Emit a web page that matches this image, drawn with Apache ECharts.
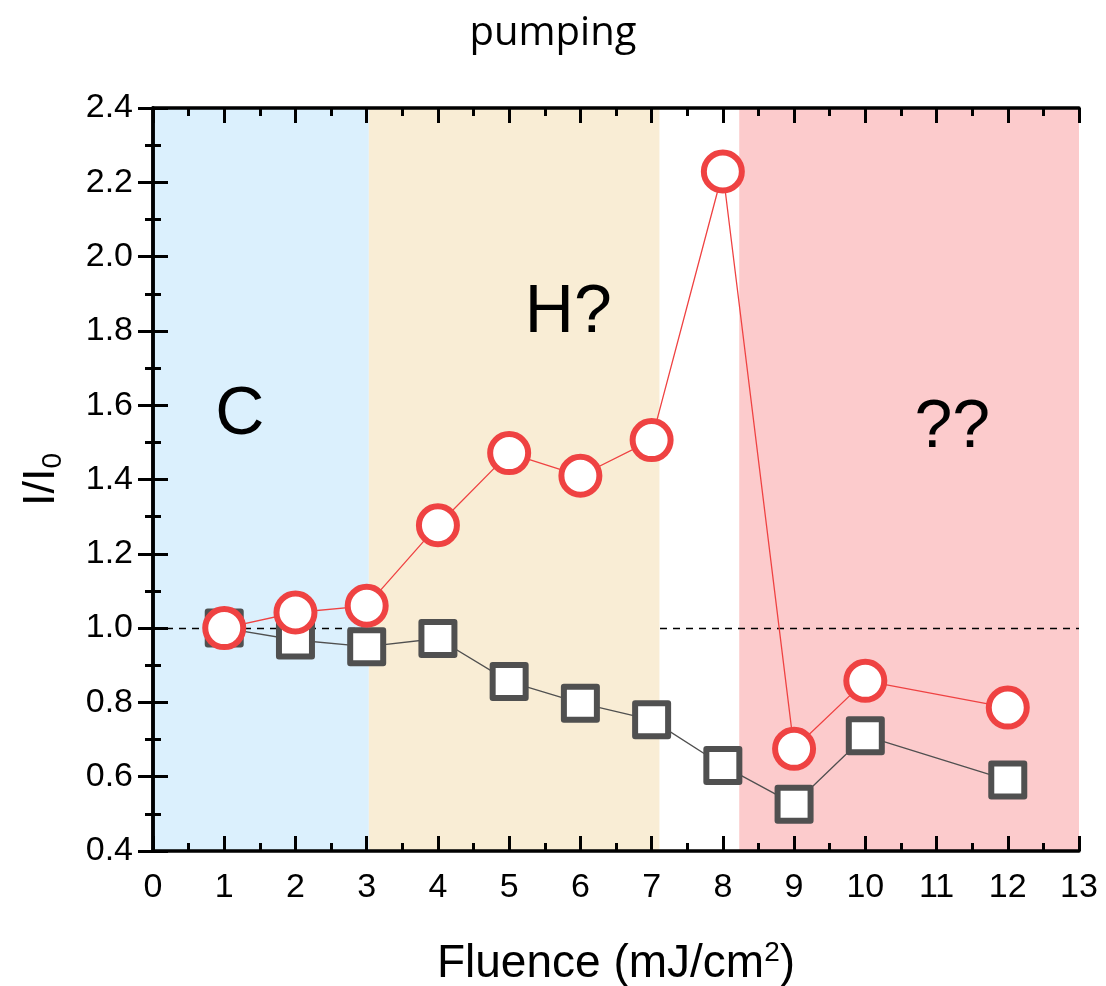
<!DOCTYPE html>
<html>
<head>
<meta charset="utf-8">
<script src="https://cdn.jsdelivr.net/npm/echarts@6/dist/echarts.min.js"></script>
<style>
  html, body { margin: 0; padding: 0; background: #fff; }
  #chart { width: 1106px; height: 986px; }
</style>
</head>
<body>
<div id="chart"></div>
<script>
// fluence values (mJ/cm2)
const fluence = [1, 2, 3, 4, 5, 6, 7, 8, 9, 10, 12]
// red circles
const circleVals = [1.00, 1.042, 1.06, 1.277, 1.471, 1.41, 1.506, 2.229, 0.675, 0.858, 0.786]
// grey squares
const squareVals = [1.00, 0.968, 0.95, 0.972, 0.856, 0.798, 0.753, 0.63, 0.526, 0.71, 0.591]
// shaded regions [from, to]
const regionC = [0, 3.03]
const regionH = [3.03, 7.11]
const regionQ = [8.23, 13]
// region labels [text, x, y]
const regionLabels = [['C', 1.22, 1.574], ['H?', 5.83, 1.848], ['??', 11.22, 1.539]]

const axisFont = 'Liberation Sans, Arial, sans-serif'

const chartDom = document.getElementById('chart')
const myChart = echarts.init(chartDom)

const pair = (xs, ys) => xs.map((x, i) => [x, ys[i]])

const areaSeries = (range, color, z) => ({
  type: 'line',
  data: [],
  silent: true,
  markArea: {
    silent: true,
    z: z,
    itemStyle: { color: color },
    data: [[{ xAxis: range[0] }, { xAxis: range[1] }]]
  }
})

const tickCommon = {
  inside: true, length: 15,
  lineStyle: { color: '#000', width: 3 }
}
const minorCommon = {
  show: true, splitNumber: 2, length: 8,
  lineStyle: { color: '#000', width: 3 }
}
const lineCommon = { show: true, lineStyle: { color: '#000', width: 3.5 } }

const option = {
  backgroundColor: '#fff',
  animation: false,
  title: {
    text: 'pumping',
    left: 'center',
    top: 9,
    textStyle: { fontFamily: 'Open Sans, Noto Sans, sans-serif', fontSize: 40, fontWeight: 'normal', color: '#000' }
  },
  grid: { left: 153, top: 108, right: 27, bottom: 135, outerBoundsMode: 'none', containLabel: false },
  xAxis: [
    {
      type: 'value', min: 0, max: 13, interval: 1, z: 10,
      name: '{a|Fluence (mJ/cm}{s|2}{a|)}',
      nameLocation: 'middle', nameGap: 88,
      nameTextStyle: {
        rich: {
          a: { fontFamily: axisFont, fontSize: 46, color: '#000' },
          s: { fontFamily: axisFont, fontSize: 28, color: '#000', padding: [0, 0, 22, 0] }
        }
      },
      axisLine: lineCommon,
      axisTick: tickCommon,
      minorTick: minorCommon,
      splitLine: { show: false },
      axisLabel: { fontFamily: axisFont, fontSize: 34, color: '#000', margin: 20 }
    },
    {
      type: 'value', min: 0, max: 13, interval: 1, position: 'top', z: 10,
      axisLine: lineCommon,
      axisTick: tickCommon,
      minorTick: minorCommon,
      splitLine: { show: false },
      axisLabel: { show: false }
    }
  ],
  yAxis: [
    {
      type: 'value', min: 0.4, max: 2.4, interval: 0.2, z: 10,
      name: '{a|I/I}{s|0}',
      nameLocation: 'middle', nameGap: 86, nameRotate: 90,
      nameTextStyle: {
        rich: {
          a: { fontFamily: axisFont, fontSize: 45, color: '#000' },
          s: { fontFamily: axisFont, fontSize: 28, color: '#000', padding: [22, 0, 0, 0] }
        }
      },
      axisLine: lineCommon,
      axisTick: tickCommon,
      minorTick: minorCommon,
      splitLine: { show: false },
      axisLabel: { fontFamily: axisFont, fontSize: 34, color: '#000', margin: 20, formatter: v => v.toFixed(1) }
    },
    {
      type: 'value', min: 0.4, max: 2.4, interval: 0.2, position: 'right', z: 10,
      axisLine: lineCommon,
      axisTick: tickCommon,
      minorTick: minorCommon,
      splitLine: { show: false },
      axisLabel: { show: false }
    }
  ],
  series: [
    areaSeries(regionC, '#dbf0fd', 0),
    areaSeries(regionQ, '#fccbcc', 0),
    {
      type: 'line', data: [], silent: true,
      markLine: {
        silent: true, symbol: 'none', z: 1, label: { show: false },
        lineStyle: { color: '#000', type: [7, 6], width: 1.3 },
        data: [{ yAxis: 1 }]
      }
    },
    areaSeries(regionH, '#f9edd5', 2),
    {
      type: 'line', data: [], silent: true,
      markPoint: {
        symbol: 'circle', symbolSize: 1, z: 3, itemStyle: { color: 'transparent' },
        label: {
          show: true, position: 'inside', formatter: p => p.name,
          fontFamily: axisFont, fontSize: 68, color: '#000'
        },
        data: regionLabels.map(r => ({ name: r[0], coord: [r[1], r[2]] }))
      }
    },
    {
      name: 'square',
      type: 'line',
      z: 5,
      data: pair(fluence, squareVals),
      symbol: 'rect',
      symbolSize: 33,
      itemStyle: { color: '#fff', borderColor: '#505050', borderWidth: 6, borderJoin: 'round' },
      lineStyle: { color: '#505050', width: 1.3 }
    },
    {
      name: 'circle',
      type: 'line',
      z: 6,
      data: pair(fluence, circleVals),
      symbol: 'circle',
      symbolSize: 38,
      itemStyle: { color: '#fff', borderColor: '#ef4242', borderWidth: 6 },
      lineStyle: { color: '#ef4242', width: 1.3 }
    }
  ]
}

option && myChart.setOption(option)
</script>
</body>
</html>
